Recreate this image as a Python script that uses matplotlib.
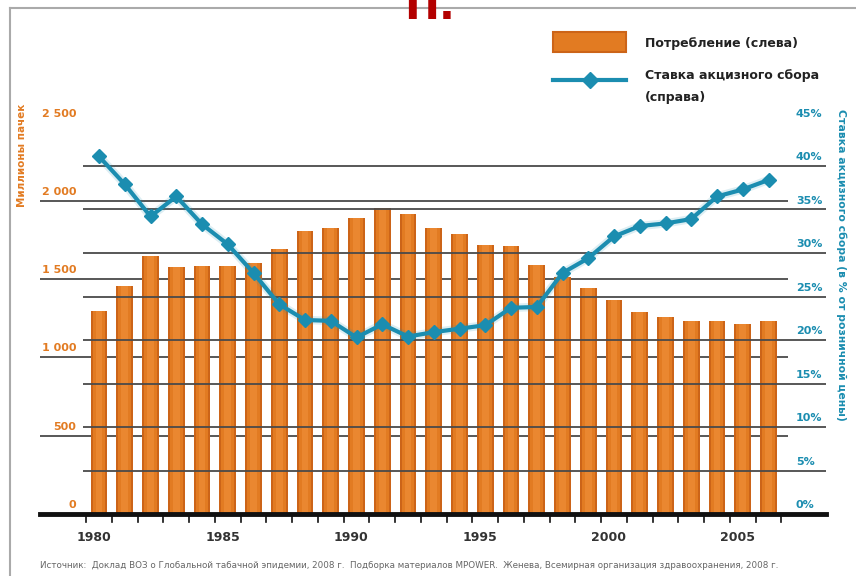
import matplotlib.pyplot as plt
from matplotlib.lines import Line2D
from matplotlib.patches import Rectangle

years = list(range(1980, 2007))
consumption = [1298, 1458, 1650, 1575, 1586, 1586, 1603, 1692, 1810, 1828,
               1888, 1952, 1916, 1828, 1790, 1720, 1709, 1592, 1515, 1441,
               1364, 1292, 1256, 1230, 1230, 1211, 1230]
excise = [41.1, 37.9, 34.2, 36.5, 33.3, 31.0, 27.7, 24.1, 22.3, 22.2,
          20.3, 21.8, 20.4, 20.9, 21.3, 21.7, 23.7, 23.8, 27.7, 29.4,
          31.9, 33.1, 33.4, 33.9, 36.5, 37.3, 38.4]
left_ticks = [0, 500, 1000, 1500, 2000, 2500]
left_labels = ["0", "500", "1 000", "1 500", "2 000", "2 500"]
right_ticks = [0, 5, 10, 15, 20, 25, 30, 35, 40, 45]
year_labels = [1980, 1985, 1990, 1995, 2000, 2005]

ORANGE = "#e27b22"
ORANGE_DARK = "#cc6418"
ORANGE_LIGHT = "#ea8730"
TEAL = "#1b8db0"
GRID = "#4a4a4a"
FONT = ["DejaVu Sans"]

W, H = 856, 576
fig = plt.figure(figsize=(W / 100, H / 100), dpi=100)

x0, x1, ytop, ybot = 40, 826, 122.5, 514
ax = fig.add_axes([x0 / W, 1 - ybot / H, (x1 - x0) / W, (ybot - ytop) / H])
ax2 = ax.twinx()

px_year = (768.5 - 99) / 26
xmin = 1980 - (99 - x0) / px_year
xmax = 2006 + (x1 - 768.5) / px_year
ax.set_xlim(xmin, xmax)
ax.set_ylim(0, 2500)
ax2.set_ylim(0, 45)

for a in (ax, ax2):
    for s in a.spines.values():
        s.set_visible(False)
    a.set_yticks([])
    a.set_xticks([])

# two sets of grid lines, offset horizontally like in the original
left_end = 1980 + (788 - 99) / px_year
right_start = 1980 - (99 - 83) / px_year
ax.hlines(left_ticks[1:], xmin, left_end, color=GRID, lw=1.3, zorder=1)
ax2.hlines(right_ticks[1:], right_start, xmax, color=GRID, lw=1.3, zorder=1)

# bars with a soft cylinder shading
ax.bar(years, consumption, width=0.66, color=ORANGE_DARK, zorder=2)
ax.bar(years, consumption, width=0.5, color=ORANGE, zorder=2)
ax.bar(years, consumption, width=0.26, color=ORANGE_LIGHT, zorder=2)

# excise line
ax2.plot(years, excise, color=TEAL, lw=6, alpha=0.15, zorder=3, solid_capstyle="round")
ax2.plot(years, excise, color=TEAL, lw=3, marker="D", markersize=7.5, zorder=4)

# bottom axis
ax.axhline(0, color="#111111", lw=3.5, zorder=5, clip_on=False)
for y in [years[0] - 1] + years:
    ax.plot([y + 0.5, y + 0.5], [0, -50], color="#111111", lw=1.2, clip_on=False, zorder=5)
for y in year_labels:
    ax.text(y - 0.2, -110, str(y), ha="center", va="top", fontsize=9,
            fontweight="bold", color="#333333", family=FONT)

# tick labels sitting above the grid lines
for v, lab in zip(left_ticks, left_labels):
    ax.text(1980 - (99 - 76) / px_year, v + 25, lab, ha="right", va="bottom",
            fontsize=8, color=ORANGE, family=FONT, fontweight="bold")
for v in right_ticks:
    ax2.text(1980 + (796 - 99) / px_year, v + 0.45, f"{v}%", ha="left", va="bottom",
             fontsize=8, color=TEAL, family=FONT, fontweight="bold")

fig.text(22 / W, 1 - 155 / H, "Миллионы пачек", rotation=90, ha="center", va="center",
         fontsize=7.5, color=ORANGE, family=FONT, fontweight="bold")
fig.text(841 / W, 1 - 265 / H, "Ставка акцизного сбора (в % от розничной цены)",
         rotation=-90, ha="center", va="center", fontsize=7.8, color=TEAL, family=FONT,
         fontweight="bold")

# legend
fig.patches.append(Rectangle((553 / W, 1 - 52 / H), 73 / W, 20 / H, transform=fig.transFigure,
                             facecolor=ORANGE, edgecolor=ORANGE_DARK, lw=1.5))
fig.lines.append(Line2D([553 / W, 626 / W], [1 - 80 / H, 1 - 80 / H], transform=fig.transFigure,
                        color=TEAL, lw=3))
fig.lines.append(Line2D([590 / W], [1 - 80 / H], transform=fig.transFigure,
                        color=TEAL, marker="D", markersize=8, lw=0))
fig.text(645 / W, 1 - 44 / H, "Потребление (слева)", ha="left", va="center",
         fontsize=9, fontweight="bold", color="#222222", family=FONT)
fig.text(645 / W, 1 - 76 / H, "Ставка акцизного сбора", ha="left", va="center",
         fontsize=9, fontweight="bold", color="#222222", family=FONT)
fig.text(645 / W, 1 - 97 / H, "(справа)", ha="left", va="center",
         fontsize=9, fontweight="bold", color="#222222", family=FONT)

# source note
fig.text(40 / W, 1 - 566 / H,
         "Источник:  Доклад ВОЗ о Глобальной табачной эпидемии, 2008 г.  Подборка материалов MPOWER.  "
         "Женева, Всемирная организация здравоохранения, 2008 г.",
         ha="left", va="center", fontsize=6.3, color="#666666", family=FONT)

# frame and clipped page title (cut by the top edge, as in the source)
fig.lines.append(Line2D([10 / W, 10 / W], [0, 1 - 8 / H], transform=fig.transFigure,
                        color="#aaaaaa", lw=1.5))
fig.lines.append(Line2D([10 / W, 1], [1 - 8 / H, 1 - 8 / H], transform=fig.transFigure,
                        color="#aaaaaa", lw=1.5))
fig.text(430 / W, 1 - 19 / H, "П.", ha="center", va="baseline", fontsize=30,
         fontweight="bold", color="#b30000")

fig.savefig("out.png", dpi=100)
